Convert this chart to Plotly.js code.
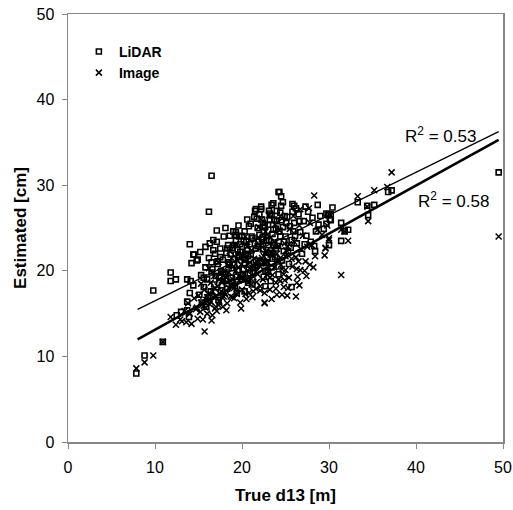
<!DOCTYPE html>
<html>
<head>
<meta charset="utf-8">
<script src="https://cdn.plot.ly/plotly-3.0.1.min.js"></script>
<style>html,body{margin:0;padding:0;background:#fff;}#chart{width:513px;height:510px;}</style>
</head>
<body>
<div id="chart"></div>
<script>
// LiDAR estimates (squares)
var lidarX = [7.85,8.8,9.8,10.9,11.8,11.8,12.4,12.5,13.0,13.7,14.1,14.4,14.2,14.8,14.4,14.0,13.7,13.9,13.7,16.5,16.2,17.1,14.0,14.5,14.9,15.2,16.7,15.8,19.0,19.3,21.6,22.2,23.4,24.2,23.1,24.3,24.5,24.7,25.8,26.0,28.7,30.2,29.9,30.2,28.4,25.7,49.5,36.8,37.2,33.3,34.4,35.2,34.5,29.7,30.0,30.4,30.1,31.4,32.2,31.4,30.0,31.8,
  15.1,15.3,15.6,15.8,15.4,15.9,
  16.0,16.2,16.4,16.6,16.8,16.1,16.9,16.5,16.3,
  17.0,17.2,17.4,17.5,17.7,17.8,17.3,17.9,17.6,17.1,
  18.0,18.2,18.3,18.5,18.6,18.8,18.9,18.4,18.1,18.7,18.9,
  19.0,19.2,19.3,19.5,19.6,19.8,19.9,19.4,19.7,19.1,19.6,
  20.0,20.1,20.3,20.4,20.6,20.7,20.9,20.2,20.5,20.8,20.3,
  21.0,21.1,21.3,21.4,21.6,21.7,21.8,21.9,21.2,21.5,21.6,
  22.0,22.1,22.3,22.4,22.5,22.6,22.8,22.9,22.2,22.7,22.4,
  23.0,23.1,23.2,23.4,23.5,23.6,23.7,23.8,23.9,23.3,23.6,23.1,
  24.0,24.1,24.3,24.4,24.6,24.7,24.8,24.2,24.9,24.5,
  25.0,25.2,25.3,25.5,25.7,25.8,25.4,25.9,
  26.0,26.3,26.5,26.7,26.9,26.2,
  27.1,27.4,27.6,27.9,27.3,
  28.1,28.5,28.8,28.3,
  29.0,29.4,29.7,
  17.2,17.8,18.3,18.6,19.1,19.4,19.7,20.0,20.3,20.6,
  20.9,21.2,21.5,21.8,22.1,22.4,22.7,23.0,23.3,23.6,
  23.9,24.2,24.5,24.8,22.0,22.5,23.0,23.5,21.0,20.5,
  19.5,18.5,17.5,16.5,24.0,23.2,22.8,22.3,21.7,21.3,
  20.7,20.2,19.3,18.7,18.2,17.0,16.7,15.6,25.1,25.6,
  26.1,26.6,27.2,23.7,22.6,21.9,20.8,19.8,24.4,23.4];
var lidarY = [8.0,10.1,17.7,11.7,19.8,18.8,19.0,14.8,15.2,19.0,18.8,18.3,20.9,21.2,21.9,17.4,16.4,14.6,15.4,31.1,26.9,24.7,23.1,21.9,21.3,22.2,23.6,22.8,24.6,24.5,27.2,27.2,27.7,29.2,27.0,29.2,28.7,28.0,27.8,27.6,27.7,26.6,26.5,25.9,22.3,18.1,31.5,29.2,29.4,28.0,27.6,27.7,26.5,26.7,26.6,27.4,26.0,25.6,24.8,23.5,23.0,24.6,
  17.2,19.5,18.1,20.4,16.3,15.8,
  19.0,21.5,17.6,20.2,18.4,16.9,22.0,19.8,23.2,
  17.5,20.8,19.2,22.6,18.3,21.3,16.6,24.0,20.0,23.4,
  19.6,22.1,17.9,21.0,24.1,20.3,18.6,23.0,25.0,19.2,22.7,
  21.4,18.2,23.5,20.1,25.3,22.2,19.0,17.4,24.0,20.7,21.8,
  22.8,19.5,24.6,21.3,26.0,18.6,23.1,20.2,22.0,25.2,17.6,
  21.9,24.0,19.8,26.3,22.6,20.6,25.0,23.4,18.4,27.0,21.2,
  24.2,20.9,26.0,22.5,19.3,25.3,23.5,21.6,27.5,18.2,23.9,
  25.4,22.1,26.7,20.4,24.3,23.0,26.0,21.6,24.9,18.8,27.9,23.6,
  25.8,22.9,24.6,26.8,21.2,25.1,23.4,19.6,26.4,27.6,
  24.0,26.3,22.3,25.2,23.6,26.9,20.8,24.6,
  25.6,23.2,26.6,24.5,22.0,27.3,
  25.8,24.1,26.9,23.4,27.5,
  26.2,24.6,25.4,22.9,
  26.4,24.9,25.5,
  21.1,19.8,22.6,20.7,23.0,19.3,21.6,24.1,20.9,22.4,
  19.7,23.8,20.4,22.9,21.1,25.6,20.0,23.0,21.9,24.8,
  22.6,20.5,25.9,22.3,26.6,24.6,19.9,21.4,25.5,23.4,
  22.5,20.8,21.6,21.0,27.0,25.9,20.9,23.7,26.1,20.3,
  21.7,23.5,24.2,21.9,18.8,19.4,22.4,19.2,25.6,22.7,
  24.1,25.8,23.1,23.3,25.1,22.9,20.7,23.1,24.0,26.5];

// Image estimates (x markers)
var imageX = [7.85,8.8,9.8,10.9,11.8,12.4,12.9,13.1,15.7,16.6,19.9,22.6,22.6,24.0,24.6,25.2,26.2,26.6,24.9,26.3,26.7,27.8,27.3,29.6,30.0,28.3,27.7,26.7,49.5,37.2,36.7,35.2,33.3,34.4,34.5,31.4,31.8,32.2,30.0,29.6,31.4,
  13.4,13.6,13.8,14.0,14.2,14.5,14.7,14.9,
  15.0,15.2,15.4,15.5,15.7,15.8,15.9,15.3,
  16.0,16.1,16.3,16.4,16.5,16.7,16.8,16.9,16.2,
  17.0,17.1,17.2,17.4,17.5,17.6,17.8,17.9,17.3,17.7,
  18.0,18.1,18.3,18.4,18.5,18.7,18.8,18.9,18.2,18.6,
  19.0,19.1,19.3,19.4,19.5,19.7,19.8,19.9,19.2,19.6,
  20.0,20.2,20.3,20.5,20.6,20.7,20.9,20.4,20.8,20.1,
  21.0,21.1,21.3,21.4,21.5,21.7,21.8,21.9,21.2,21.6,
  22.0,22.1,22.3,22.5,22.6,22.7,22.9,22.2,22.8,22.4,
  23.0,23.2,23.3,23.5,23.6,23.8,23.9,23.1,23.7,23.4,
  24.0,24.2,24.3,24.5,24.6,24.8,24.9,24.4,
  25.0,25.2,25.4,25.5,25.7,25.9,25.3,
  26.0,26.2,26.4,26.6,26.8,26.3,
  27.0,27.2,27.5,27.8,27.4,
  28.0,28.4,28.7,28.2,
  29.2,29.5,29.8,
  16.4,16.9,17.3,17.7,18.1,18.5,18.9,19.2,19.6,20.0,
  20.4,20.7,21.1,21.4,21.8,22.1,22.5,22.8,23.2,23.5,
  23.9,24.2,24.6,25.0,25.4,15.6,16.0,17.0,17.9,18.7,
  19.4,20.2,20.9,21.6,22.3,23.0,23.7,24.4,25.1,25.8,
  14.8,15.3,16.6,17.4,18.3,19.0,19.9,20.6,21.3,22.0,
  22.7,23.4,24.1,24.8,21.9,22.9,20.5,19.5,18.0,26.5];
var imageY = [8.6,9.3,10.1,11.7,14.6,13.7,14.3,14.1,12.9,14.8,15.6,16.3,16.2,17.2,17.2,17.1,17.0,18.3,18.9,20.2,20.1,20.7,21.1,22.6,23.6,28.8,27.3,27.2,24.0,31.5,29.8,29.4,28.7,27.5,25.8,24.8,24.6,23.5,23.8,22.7,19.5,
  15.3,14.0,16.2,15.0,13.8,16.8,15.5,14.4,
  17.1,15.2,16.0,14.3,17.8,15.7,16.6,18.5,
  15.0,17.3,16.1,18.6,14.2,16.9,19.4,15.6,20.3,
  17.0,15.3,18.2,16.4,19.8,17.6,15.8,18.9,21.0,16.9,
  17.4,19.3,16.2,20.6,18.0,17.0,21.5,19.0,15.4,22.3,
  18.5,16.8,20.0,17.6,21.9,18.9,16.3,20.7,23.0,19.4,
  17.8,19.7,21.2,16.7,22.8,18.6,20.3,24.0,17.4,21.7,
  19.1,22.4,17.6,20.5,23.6,18.7,21.3,25.1,16.9,19.9,
  20.6,18.2,23.2,21.7,17.4,24.6,19.6,26.0,22.3,19.0,
  21.0,17.8,23.9,19.5,22.5,25.4,18.6,26.5,20.4,16.7,
  22.0,19.0,24.7,20.7,26.1,18.1,23.2,21.5,
  20.1,22.8,19.2,24.9,21.4,26.4,18.0,
  23.4,21.6,19.3,25.3,22.5,18.6,
  24.1,20.0,22.8,25.6,19.4,
  23.0,21.7,24.8,20.4,
  24.2,21.8,25.3,
  16.4,17.9,16.0,18.6,17.2,19.8,16.9,18.1,20.4,19.2,
  17.3,20.8,18.4,21.4,19.6,17.7,20.9,22.2,19.2,21.8,
  17.9,22.9,20.2,21.7,23.1,15.9,16.9,15.8,17.0,18.4,
  17.3,18.9,21.0,17.9,21.5,19.9,23.4,18.8,22.4,20.5,
  15.7,16.3,17.6,19.0,18.7,20.5,19.1,20.0,19.3,22.6,
  20.9,22.0,21.3,19.6,23.9,24.2,19.0,21.2,19.9,21.1];

// Linear trend lines (endpoints)
var lidarTrendX = [8, 49.5];
var lidarTrendY = [15.5, 36.25];
var imageTrendX = [8, 49.5];
var imageTrendY = [12.0, 35.3];

var seriesNames = ["LiDAR", "Image"];
var r2Labels = ["R<sup>2</sup> = 0.53", "R<sup>2</sup> = 0.58"];
var tickValues = [0, 10, 20, 30, 40, 50];

var font = "Liberation Sans, Arial, sans-serif";

var traces = [
  {x: lidarX, y: lidarY, type: "scatter", mode: "markers", name: seriesNames[0],
   marker: {symbol: "square-open", size: 5, color: "#000", line: {width: 1.6, color: "#000"}}},
  {x: imageX, y: imageY, type: "scatter", mode: "markers", name: seriesNames[1],
   marker: {symbol: "x-thin-open", size: 6, color: "#000", line: {width: 1.5, color: "#000"}}},
  {x: lidarTrendX, y: lidarTrendY, type: "scatter", mode: "lines", showlegend: false,
   line: {color: "#000", width: 1.3}},
  {x: imageTrendX, y: imageTrendY, type: "scatter", mode: "lines", showlegend: false,
   line: {color: "#000", width: 2.6}}
];

var layout = {
  width: 513, height: 510,
  margin: {l: 68, r: 10, t: 14, b: 68},
  paper_bgcolor: "#fff", plot_bgcolor: "#fff",
  font: {family: font, size: 16, color: "#000"},
  showlegend: true,
  legend: {x: 0.025, y: 0.949, xanchor: "left", yanchor: "top", bgcolor: "rgba(0,0,0,0)",
           font: {family: font, size: 14, color: "#000", weight: "bold"}, tracegroupgap: 0, itemwidth: 30},
  xaxis: {range: [0, 50], tickvals: tickValues, showgrid: false, zeroline: false,
          showline: true, linecolor: "#888", linewidth: 1.5, mirror: true,
          ticks: "outside", ticklen: 5, tickcolor: "#888", ticklabelstandoff: 5,
          tickfont: {family: font, size: 16},
          title: {text: "<b>True d13 [m]</b>", font: {family: font, size: 17}, standoff: 14}},
  yaxis: {range: [0, 50], tickvals: tickValues, showgrid: false, zeroline: false,
          showline: true, linecolor: "#888", linewidth: 1.5, mirror: true,
          ticks: "outside", ticklen: 5, tickcolor: "#888", ticklabelstandoff: 4,
          tickfont: {family: font, size: 16},
          title: {text: "<b>Estimated [cm]</b>", font: {family: font, size: 17}, standoff: 5}},
  annotations: [
    {x: 38.5, y: 35.9, xref: "x", yref: "y", text: r2Labels[0], showarrow: false, xanchor: "left", yanchor: "middle",
     font: {family: font, size: 17, color: "#000"}},
    {x: 40.0, y: 28.3, xref: "x", yref: "y", text: r2Labels[1], showarrow: false, xanchor: "left", yanchor: "middle",
     font: {family: font, size: 17, color: "#000"}}
  ]
};

Plotly.newPlot("chart", traces, layout, {displayModeBar: false, staticPlot: true});
</script>
</body>
</html>
